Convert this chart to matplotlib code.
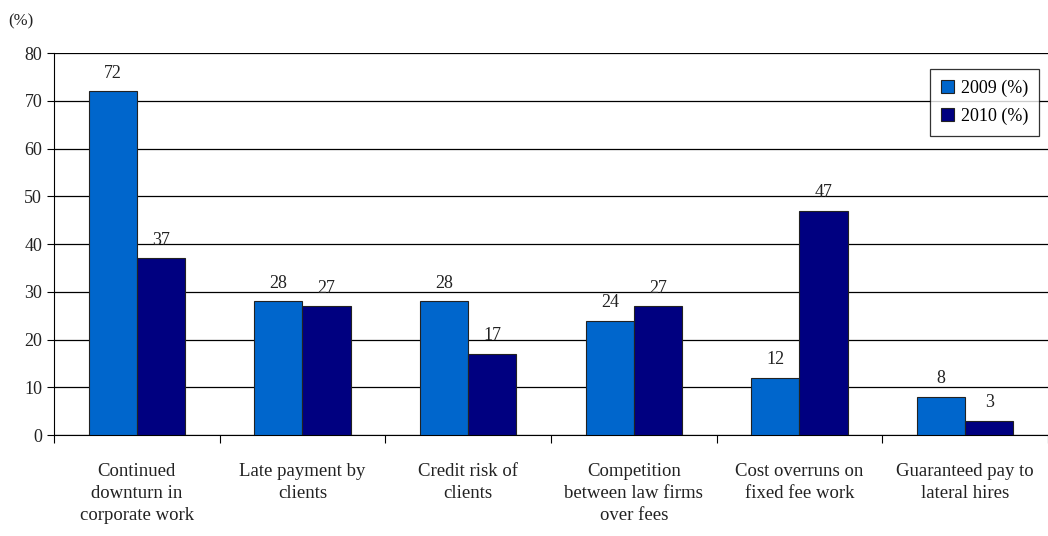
import matplotlib
matplotlib.use("Agg")
import matplotlib.pyplot as plt
import numpy as np

plt.rcParams['font.family'] = ['Liberation Serif', 'DejaVu Serif']

categories = ["Continued\ndownturn in\ncorporate work", "Late payment by\nclients",
              "Credit risk of\nclients", "Competition\nbetween law firms\nover fees",
              "Cost overruns on\nfixed fee work", "Guaranteed pay to\nlateral hires"]
vals_2009 = [72, 28, 28, 24, 12, 8]
vals_2010 = [37, 27, 17, 27, 47, 3]
series_names = ["2009 (%)", "2010 (%)"]
colors = ["#0066CC", "#000080"]

fig = plt.figure(figsize=(10.48, 5.36), dpi=100)
ax = fig.add_axes([0.0515, 0.188, 0.9485, 0.713])

x = np.arange(len(categories))
w = 0.29
b1 = ax.bar(x - w/2, vals_2009, w, color=colors[0], edgecolor="#222222", linewidth=0.8,
            label=series_names[0], zorder=3)
b2 = ax.bar(x + w/2, vals_2010, w, color=colors[1], edgecolor="#222222", linewidth=0.8,
            label=series_names[1], zorder=3)
for bars in (b1, b2):
    for r in bars:
        ax.text(r.get_x() + r.get_width()/2, r.get_height() + 2.0, "%d" % r.get_height(),
                ha="center", va="bottom", fontsize=13, color="#222222")

ax.set_xlim(-0.5, len(categories) - 0.5)
ax.set_ylim(0, 80)
ax.set_yticks(range(0, 81, 10))
ax.yaxis.grid(True, color="black", linewidth=0.9, zorder=0)
ax.set_axisbelow(True)
ax.set_xticks(np.arange(-0.5, len(categories) - 0.4, 1.0))
ax.set_xticklabels([])
ax.set_xticks(x, minor=True)
ax.set_xticklabels(categories, minor=True, fontsize=13.5, color="#222222")
for t in ax.get_xticklabels(minor=True):
    t.set_linespacing(1.4)
ax.tick_params(axis="x", which="minor", length=0, pad=20)
ax.tick_params(axis="x", which="major", length=6, direction="out")
ax.tick_params(axis="y", labelsize=13, length=5, labelcolor="#222222")
for s in ["top", "right"]:
    ax.spines[s].set_visible(False)

leg = ax.legend(loc="upper right", bbox_to_anchor=(1.0, 0.983), fontsize=13,
                frameon=True, fancybox=False, edgecolor="black",
                handlelength=0.75, handleheight=0.75, handletextpad=0.35, borderpad=0.6,
                labelspacing=0.6)
leg.get_frame().set_linewidth(0.9)

fig.text(0.008, 0.952, "(%)", fontsize=12, color="#222222")

fig.savefig("out.png", dpi=100)
